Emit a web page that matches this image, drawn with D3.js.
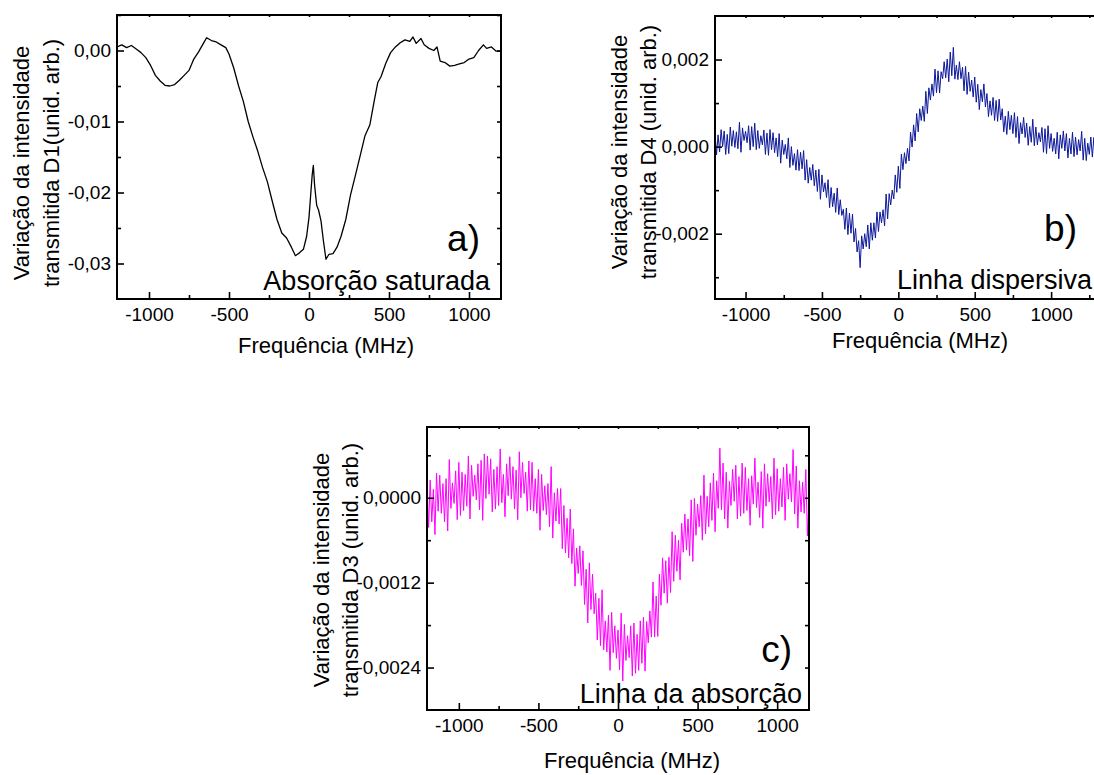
<!DOCTYPE html>
<html>
<head>
<meta charset="utf-8">
<script src="https://cdn.jsdelivr.net/npm/d3@7"></script>
<style>
  body { margin: 0; background: #fff; }
  svg { font-family: "Liberation Sans", Arial, sans-serif; }
</style>
</head>
<body>
<div id="wrapper"></div>
<script>
// ---- data ----
const xTicks = [-1000, -500, 0, 500, 1000];
const xMinorTicks = [-750, -250, 250, 750];
const xMinorTicksB = [-750, -250, 250, 750, 1250];

// a) saturated absorption (D1)
const freqA = [-1200,-1170,-1140,-1110,-1080,-1050,-1020,-990,-960,-930,-900,-870,-840,-810,-780,-750,-720,-690,-660,-640,
  -610,-580,-550,-520,-500,-470,-440,-410,-380,-350,-320,-290,-260,-230,-200,-170,-140,-110,-85,-60,
  -35,-15,0,10,20,27,35,48,60,75,90,106,125,150,175,200,230,260,290,320,
  350,380,410,430,450,480,510,540,570,600,630,650,670,700,720,750,780,800,820,850,
  880,910,940,970,1000,1030,1060,1090,1110,1140,1170,1200];
const valA = [0.0005,0.0008,0.0004,0.0007,0.0002,-0.0003,-0.0010,-0.0021,-0.0035,-0.0043,-0.0049,-0.0050,-0.0048,-0.0042,-0.0035,-0.0028,-0.0012,-0.0002,0.0010,0.0018,
  0.0014,0.0012,0.0008,0.0004,-0.0005,-0.0025,-0.0050,-0.0072,-0.0100,-0.0122,-0.0142,-0.0165,-0.0185,-0.0212,-0.0238,-0.0257,-0.0264,-0.0277,-0.0289,-0.0285,
  -0.0280,-0.0262,-0.0235,-0.0205,-0.0175,-0.0162,-0.0190,-0.0218,-0.0225,-0.0240,-0.0268,-0.0294,-0.0287,-0.0286,-0.0277,-0.0262,-0.0238,-0.0203,-0.0176,-0.0148,
  -0.0120,-0.0105,-0.0068,-0.0045,-0.0037,-0.0018,-0.0003,0.0005,0.0011,0.0015,0.0013,0.0019,0.0010,0.0017,0.0008,0.0003,0.0000,0.0005,-0.0015,-0.0017,
  -0.0022,-0.0021,-0.0019,-0.0017,-0.0012,-0.0010,0.0000,0.0008,0.0003,0.0005,-0.0001,-0.0001];
const yTicksA = [0, -0.01, -0.02, -0.03];
const yMinorA = [0.005, -0.005, -0.015, -0.025];

// sampling grid (MHz) of the noisy traces b) and c)
const freqB = [-1200,-1190,-1180,-1170,-1160,-1150,-1140,-1130,-1120,-1110,-1100,-1090,-1080,-1070,-1060,-1050,-1040,-1030,-1020,-1010,
  -1000,-990,-980,-970,-960,-950,-940,-930,-920,-910,-900,-890,-880,-870,-860,-850,-840,-830,-820,-810,
  -800,-790,-780,-770,-760,-750,-740,-730,-720,-710,-700,-690,-680,-670,-660,-650,-640,-630,-620,-610,
  -600,-590,-580,-570,-560,-550,-540,-530,-520,-510,-500,-490,-480,-470,-460,-450,-440,-430,-420,-410,
  -400,-390,-380,-370,-360,-350,-340,-330,-320,-310,-300,-290,-280,-270,-260,-250,-240,-230,-220,-210,
  -200,-190,-180,-170,-160,-150,-140,-130,-120,-110,-100,-90,-80,-70,-60,-50,-40,-30,-20,-10,
  0,10,20,30,40,50,60,70,80,90,100,110,120,130,140,150,160,170,180,190,
  200,210,220,230,240,250,260,270,280,290,300,310,320,330,340,350,360,370,380,390,
  400,410,420,430,440,450,460,470,480,490,500,510,520,530,540,550,560,570,580,590,
  600,610,620,630,640,650,660,670,680,690,700,710,720,730,740,750,760,770,780,790,
  800,810,820,830,840,850,860,870,880,890,900,910,920,930,940,950,960,970,980,990,
  1000,1010,1020,1030,1040,1050,1060,1070,1080,1090,1100,1110,1120,1130,1140,1150,1160,1170,1180,1190,
  1200,1210,1220,1230,1240,1250,1260,1270,1280,1290,1300];

// b) dispersive line (D4), values in units of 1e-4
const unitB = 1e-4;
const valB = [3.0,-1.9,2.7,-1.2,3.9,0.0,3.6,-1.8,2.8,-1.6,4.5,0.1,3.7,-0.2,3.4,-0.5,5.6,-1.3,4.3,1.4,
  3.5,0.9,4.8,-0.8,4.6,0.0,5.4,-0.7,3.7,-0.4,2.5,0.4,3.8,-1.8,3.1,-2.0,3.9,-0.7,3.2,-1.4,
  2.0,-2.3,3.0,-3.8,1.5,-1.8,0.5,-2.8,2.0,-4.8,0.0,-4.3,-1.6,-5.4,-0.7,-5.5,-1.3,-5.1,-0.9,-7.7,
  -3.0,-8.4,-4.8,-7.7,-4.1,-9.0,-5.4,-10.3,-5.2,-12.1,-6.5,-10.4,-8.3,-11.7,-7.6,-14.0,-9.4,-13.8,-10.7,-15.1,
  -9.5,-15.6,-12.2,-15.8,-14.4,-19.0,-14.1,-20.2,-15.3,-19.9,-15.5,-21.9,-18.8,-24.2,-21.6,-27.8,-20.5,-23.5,-20.0,-23.0,
  -18.0,-23.5,-17.5,-21.5,-17.5,-21.0,-15.0,-19.5,-15.0,-17.5,-14.5,-18.2,-10.9,-16.6,-10.8,-13.4,-10.0,-12.0,-6.5,-10.5,
  -4.5,-9.6,-1.7,-5.3,-1.4,-3.9,-0.4,-3.3,3.3,-0.1,5.0,1.3,7.6,3.4,8.7,6.0,9.3,5.8,12.7,7.6,
  13.5,10.7,14.4,11.6,17.8,12.4,17.4,12.3,17.2,15.6,19.5,15.8,20.1,14.9,21.7,16.3,22.8,15.5,18.7,15.4,
  19.5,15.6,18.2,12.8,18.4,12.0,17.1,12.7,15.3,11.4,16.0,10.2,14.3,8.5,13.1,10.3,14.4,9.1,12.2,6.9,
  10.5,7.2,11.3,6.0,10.6,5.8,10.9,6.1,8.7,3.4,7.0,2.8,8.1,3.9,7.2,3.0,7.8,2.1,6.9,0.7,
  5.5,2.9,6.7,2.1,5.4,0.3,4.6,1.0,6.3,0.2,4.5,0.4,3.2,1.1,4.4,-1.3,4.1,-1.6,4.8,-0.4,
  3.0,-1.1,1.9,-1.7,3.3,-2.8,2.7,-0.4,3.6,-1.0,3.0,-2.6,1.9,-1.7,3.3,-2.3,2.2,-1.9,1.6,-1.0,
  3.5,-3.1,1.9,-3.2,0.8,-1.8,2.2,-2.4,2.1,-3.0,3.0];
const yTicksB = [0.002, 0, -0.002];
const yMinorB = [0.001, -0.001, -0.003];

// c) absorption line (D3), values in units of 1e-4
const unitC = 1e-4;
const valC = [1.7,-4.2,2.5,-3.4,1.2,-5.2,3.5,-1.9,3.2,-2.2,2.0,-3.4,2.7,-4.7,5.4,-1.5,2.1,-0.8,3.8,-3.1,
  5.0,-2.5,3.6,-1.8,3.3,-1.2,5.9,-3.0,4.6,0.2,3.2,-0.3,4.8,-1.7,5.3,-3.2,6.2,-0.1,5.9,0.5,
  5.5,-2.0,4.0,-1.6,4.4,-1.1,6.9,-0.7,3.3,-2.7,4.8,0.3,5.8,-0.2,4.4,-1.6,3.9,-3.1,6.5,0.0,
  5.0,0.6,3.6,-1.9,5.2,-1.7,5.0,-1.9,2.7,-2.2,4.0,-4.6,3.3,-1.8,1.7,-2.4,2.0,-4.1,4.4,-5.7,
  0.7,-3.3,1.3,-3.7,1.3,-7.2,-1.1,-7.8,-2.9,-8.5,-1.6,-9.3,-4.4,-12.5,-7.1,-10.7,-6.8,-12.4,-7.5,-15.1,
  -10.1,-17.7,-9.2,-15.8,-10.8,-16.4,-13.5,-20.1,-14.2,-20.9,-13.0,-21.5,-17.4,-21.8,-16.6,-24.4,-16.2,-21.9,-18.1,-22.7,
  -18.7,-24.3,-16.3,-25.9,-17.9,-23.0,-19.5,-22.6,-18.1,-25.2,-17.7,-24.8,-19.3,-24.4,-17.4,-23.4,-16.9,-24.5,-17.5,-20.5,
  -16.0,-19.7,-11.9,-19.7,-13.9,-19.6,-10.8,-15.2,-8.5,-13.5,-8.9,-14.9,-8.4,-13.4,-4.8,-11.8,-5.3,-10.4,-6.0,-11.6,
  -3.6,-7.7,-2.3,-7.4,-3.0,-8.2,-0.3,-9.0,-0.1,-5.3,-0.9,-4.1,0.3,-6.0,3.2,-5.1,0.2,-4.1,2.1,-3.2,
  3.5,-4.8,2.4,-1.5,7.0,-1.7,4.9,-3.0,3.6,-4.3,2.3,-1.1,4.0,-0.5,4.6,-3.0,3.0,-2.6,4.9,-2.2,
  4.3,-1.8,2.7,-3.9,3.1,-0.9,5.6,-1.4,2.2,-2.8,3.7,-4.3,4.8,-1.2,3.4,-0.6,3.0,-3.0,5.6,-2.4,
  4.1,-1.9,2.7,-1.3,4.3,-3.2,4.8,-0.2,3.4,-0.6,6.8,-2.3,4.5,-4.3,2.4,-2.0,2.2,-2.2,4.0,-5.4,
  -0.2];
const freqC = freqB.slice(0, valC.length);   // same grid, -1200 … 1200 MHz
const yTicksC = [0, -0.0012, -0.0024];
const yMinorC = [0.0006, -0.0006, -0.0018];

// comma as decimal separator, plain hyphen as minus
const locale = d3.formatLocale({ decimal: ",", thousands: ".", grouping: [3], currency: ["", ""], minus: "-" });

const panels = [
  { id: "a", left: 117, right: 501, top: 15, bottom: 299,
    xDomain: [-1200, 1200], yDomain: [-0.035, 0.005], xMinor: xMinorTicks,
    yTicks: yTicksA, yMinor: yMinorA, yFormat: ".2f",
    freq: freqA, values: valA, unit: 1, color: "#000000", lineWidth: 1.3,
    yTitle: ["Variação da intensidade", "transmitida D1(unid. arb.)"], yTitleX: [29, 59], yTitleY: 163,
    xTitleX: 326, xTitleY: 353,
    tag: "a)", tagX: 480, tagY: 251, caption: "Absorção saturada", capX: 490, capY: 290 },
  { id: "b", left: 715, right: 1100, top: 16, bottom: 299,
    xDomain: [-1200, 1320], yDomain: [-0.0035, 0.003], xMinor: xMinorTicksB,
    yTicks: yTicksB, yMinor: yMinorB, yFormat: ".3f",
    freq: freqB, values: valB, unit: unitB, color: "#0c1899", lineWidth: 1,
    yTitle: ["Variação da intensidade", "transmitida D4 (unid. arb.)"], yTitleX: [627, 656], yTitleY: 152,
    xTitleX: 920, xTitleY: 348,
    tag: "b)", tagX: 1077, tagY: 241, caption: "Linha dispersiva", capX: 1092, capY: 289 },
  { id: "c", left: 427, right: 809, top: 427, bottom: 710,
    xDomain: [-1200, 1200], yDomain: [-0.003, 0.001], xMinor: xMinorTicks,
    yTicks: yTicksC, yMinor: yMinorC, yFormat: ".4f",
    freq: freqC, values: valC, unit: unitC, color: "#ff00ff", lineWidth: 1,
    yTitle: ["Variação da intensidade", "transmitida D3 (unid. arb.)"], yTitleX: [329, 358], yTitleY: 570,
    xTitleX: 632, xTitleY: 768,
    tag: "c)", tagX: 792, tagY: 662, caption: "Linha da absorção", capX: 802, capY: 703 },
];

const svg = d3.select("#wrapper").append("svg")
  .attr("width", 1094)
  .attr("height", 775);

function styleAxis(g) {
  g.attr("font-size", null).attr("font-family", null);
  g.select(".domain").remove();
  g.selectAll(".tick line").attr("stroke", "#000").attr("stroke-width", 1.6);
  g.selectAll(".tick text").attr("fill", "#000").style("font-size", "19px");
}

function drawPanel(p) {
  const x = d3.scaleLinear().domain(p.xDomain).range([p.left, p.right]);
  const y = d3.scaleLinear().domain(p.yDomain).range([p.bottom, p.top]);

  // data line, clipped to the frame
  svg.append("clipPath").attr("id", "clip-" + p.id)
    .append("rect")
    .attr("x", p.left).attr("y", p.top)
    .attr("width", p.right - p.left).attr("height", p.bottom - p.top);

  const line = d3.line()
    .x((d, i) => x(p.freq[i]))
    .y(d => y(d * p.unit));

  svg.append("path")
    .attr("clip-path", `url(#clip-${p.id})`)
    .attr("fill", "none")
    .attr("stroke", p.color)
    .attr("stroke-width", p.lineWidth)
    .attr("stroke-linejoin", "round")
    .attr("d", line(p.values));

  // bottom axis: major ticks with labels, inward
  svg.append("g")
    .attr("transform", `translate(0,${p.bottom})`)
    .call(d3.axisBottom(x).tickValues(xTicks).tickSizeInner(-7).tickSizeOuter(0)
      .tickPadding(9).tickFormat(locale.format("d")))
    .call(styleAxis);
  svg.append("g")
    .attr("transform", `translate(0,${p.bottom})`)
    .call(d3.axisBottom(x).tickValues(p.xMinor).tickSizeInner(-4).tickSizeOuter(0).tickFormat(""))
    .call(styleAxis);

  // top axis: tiny ticks
  svg.append("g")
    .attr("transform", `translate(0,${p.top})`)
    .call(d3.axisTop(x).tickValues(xTicks.concat(p.xMinor)).tickSizeInner(-2).tickSizeOuter(0).tickFormat(""))
    .call(styleAxis);

  // left axis
  svg.append("g")
    .attr("transform", `translate(${p.left},0)`)
    .call(d3.axisLeft(y).tickValues(p.yTicks).tickSizeInner(-7).tickSizeOuter(0)
      .tickPadding(6).tickFormat(locale.format(p.yFormat)))
    .call(styleAxis);
  svg.append("g")
    .attr("transform", `translate(${p.left},0)`)
    .call(d3.axisLeft(y).tickValues(p.yMinor).tickSizeInner(-4).tickSizeOuter(0).tickFormat(""))
    .call(styleAxis);

  // right axis: mirrored small ticks
  svg.append("g")
    .attr("transform", `translate(${p.right},0)`)
    .call(d3.axisRight(y).tickValues(p.yTicks.concat(p.yMinor)).tickSizeInner(-4).tickSizeOuter(0).tickFormat(""))
    .call(styleAxis);

  // frame
  svg.append("rect")
    .attr("x", p.left).attr("y", p.top)
    .attr("width", p.right - p.left).attr("height", p.bottom - p.top)
    .attr("fill", "none")
    .attr("stroke", "#000")
    .attr("stroke-width", 2);

  // axis titles
  svg.append("text")
    .attr("x", p.xTitleX).attr("y", p.xTitleY)
    .attr("text-anchor", "middle")
    .style("font-size", "22px")
    .text("Frequência (MHz)");

  p.yTitle.forEach((t, i) => {
    svg.append("text")
      .attr("transform", `translate(${p.yTitleX[i]},${p.yTitleY}) rotate(-90)`)
      .attr("text-anchor", "middle")
      .style("font-size", "22px")
      .text(t);
  });

  // panel tag and caption
  svg.append("text")
    .attr("x", p.tagX).attr("y", p.tagY)
    .attr("text-anchor", "end")
    .style("font-size", "37px")
    .text(p.tag);

  svg.append("text")
    .attr("x", p.capX).attr("y", p.capY)
    .attr("text-anchor", "end")
    .style("font-size", "27px")
    .text(p.caption);
}

panels.forEach(drawPanel);
</script>
</body>
</html>
